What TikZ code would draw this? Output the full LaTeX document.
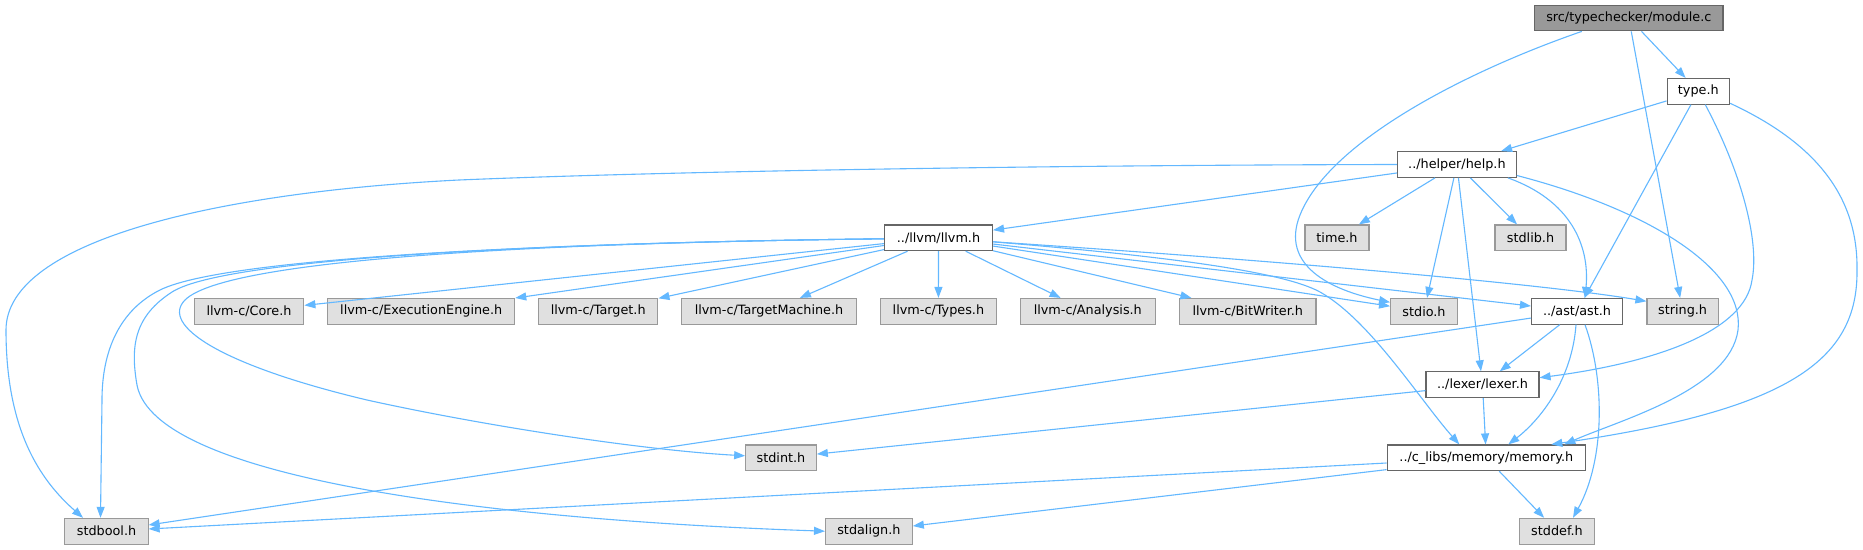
\documentclass[tikz,border=0pt]{standalone}
\usepackage{fontspec}
\setmainfont{DejaVu Sans}
\usetikzlibrary{arrows.meta}
\definecolor{edgec}{HTML}{63B8FF}
\definecolor{grayfill}{HTML}{E0E0E0}
\definecolor{grayline}{HTML}{999999}
\definecolor{darkline}{HTML}{666666}
\definecolor{rootfill}{HTML}{999999}
\begin{document}
\begin{tikzpicture}[x=1pt,y=-1pt,
  box/.style={draw, rectangle, inner sep=0pt, minimum height=25.7pt, line width=1.1pt, font=\fontsize{12.8}{15}\selectfont, text=black},
  extnode/.style={box, fill=grayfill, draw=grayline},
  intnode/.style={box, fill=white, draw=darkline},
  rootnode/.style={box, fill=rootfill, draw=darkline},
  incl/.style={draw=edgec, line width=1.1pt, -{Triangle[length=11pt,width=8pt]}}
]
\fill[white] (0,0) rectangle (1863,549);
\useasboundingbox (0,0) rectangle (1863,549);

\node[rootnode, minimum width=188.4pt] (module) at (1628.8,18) {src/typechecker/module.c};
\node[intnode, minimum width=62.5pt] (type) at (1698.3,91.3) {type.h};
\node[intnode, minimum width=118.8pt] (help) at (1456.9,164.5) {../helper/help.h};
\node[intnode, minimum width=108pt] (llvm) at (938.5,237.8) {../llvm/llvm.h};
\node[extnode, minimum width=64pt] (time) at (1337,237.8) {time.h};
\node[extnode, minimum width=71pt] (stdlib) at (1530.5,237.8) {stdlib.h};
\node[extnode, minimum width=109.7pt] (core) at (249,311.3) {llvm-c/Core.h};
\node[extnode, minimum width=187pt] (ee) at (421.2,311.3) {llvm-c/ExecutionEngine.h};
\node[extnode, minimum width=119.4pt] (target) at (598.2,311.3) {llvm-c/Target.h};
\node[extnode, minimum width=175pt] (tm) at (769,311.3) {llvm-c/TargetMachine.h};
\node[extnode, minimum width=116pt] (types) at (938.4,311.3) {llvm-c/Types.h};
\node[extnode, minimum width=135pt] (analysis) at (1087.8,311.3) {llvm-c/Analysis.h};
\node[extnode, minimum width=136.3pt] (bitwriter) at (1247.8,311.3) {llvm-c/BitWriter.h};
\node[extnode, minimum width=66.8pt] (stdio) at (1424,311.3) {stdio.h};
\node[intnode, minimum width=91pt] (ast) at (1577,311.3) {../ast/ast.h};
\node[extnode, minimum width=71.3pt] (string) at (1682.6,311.3) {string.h};
\node[intnode, minimum width=113pt] (lexer) at (1482.5,384.7) {../lexer/lexer.h};
\node[extnode, minimum width=70.6pt] (stdint) at (781,457.8) {stdint.h};
\node[intnode, minimum width=198.5pt] (memory) at (1486.3,457.8) {../c\_libs/memory/memory.h};
\node[extnode, minimum width=83.2pt] (stdbool) at (106.5,531.2) {stdbool.h};
\node[extnode, minimum width=86.8pt] (stdalign) at (868.9,531.2) {stdalign.h};
\node[extnode, minimum width=75.5pt] (stddef) at (1557,531.2) {stddef.h};

% module.c
\draw[incl] (module) -- (type);
\draw[incl] (module) -- (string);
\draw[incl] ([xshift=-47pt]module.south) .. controls (1470,70) and (1330,140) .. (1300,215) .. controls (1280,265) and (1330,290) .. ([yshift=9pt]stdio.west);

% type.h
\draw[incl] (type) -- (help);
\draw[incl] (type) -- (ast);
\draw[incl] ([xshift=7pt]type.south) .. controls (1740,170) and (1760,240) .. (1752,280) .. controls (1745,330) and (1660,362) .. ([yshift=7pt]lexer.east);
\draw[incl] ([yshift=-12pt]type.east) .. controls (1820,145) and (1858,200) .. (1857,270) .. controls (1858,360) and (1790,410) .. ([xshift=65pt]memory.north);

% help.h
\draw[incl] (help.west) .. controls (1100,165) and (700,170) .. (459,180) .. controls (220,192) and (6,240) .. (6,330) .. controls (6,430) and (40,480) .. ([xshift=-23.5pt]stdbool.north);
\draw[incl] (help) -- (llvm);
\draw[incl] (help) -- (time);
\draw[incl] (help) -- (stdio);
\draw[incl] (help) -- (lexer);
\draw[incl] (help) -- (stdlib);
\draw[incl] ([xshift=51pt]help.south) .. controls (1570,200) and (1590,245) .. ([xshift=8pt]ast.north);
\draw[incl] ([yshift=-11pt]help.east) .. controls (1650,210) and (1745,270) .. (1738,330) .. controls (1730,390) and (1620,420) .. ([xshift=78pt]memory.north);

% llvm.h
\draw[incl] (llvm) -- (core);
\draw[incl] (llvm) -- (ee);
\draw[incl] (llvm) -- (target);
\draw[incl] (llvm) -- (tm);
\draw[incl] (llvm) -- (types);
\draw[incl] (llvm) -- (analysis);
\draw[incl] (llvm) -- (bitwriter);
\draw[incl] (llvm) -- (stdio);
\draw[incl] (llvm) -- (ast);
\draw[incl] ([yshift=-4pt]llvm.east) .. controls (1300,262) and (1550,285) .. ([yshift=10pt]string.west);
\draw[incl] ([yshift=-4pt]llvm.east) .. controls (1150,255) and (1280,270) .. (1320,292) .. controls (1370,320) and (1420,400) .. ([xshift=-27pt]memory.north);
\draw[incl] ([yshift=-1pt]llvm.west) .. controls (600,242) and (230,255) .. (160,290) .. controls (120,310) and (102,350) .. (102,400) -- ([xshift=-6pt]stdbool.north);
\draw[incl] ([yshift=-1pt]llvm.west) .. controls (600,242) and (230,255) .. (172,292) .. controls (135,316) and (130,345) .. (137,385) .. controls (155,480) and (500,520) .. (stdalign.west);
\draw[incl] ([yshift=-1pt]llvm.west) .. controls (600,242) and (230,255) .. (185,300) .. controls (160,325) and (220,365) .. (367,400) .. controls (480,425) and (640,450) .. ([yshift=2pt]stdint.west);

% ast.h
\draw[incl] (ast) -- (stdbool);
\draw[incl] (ast) -- (lexer);
\draw[incl] ([xshift=-1pt]ast.south) .. controls (1572,380) and (1540,420) .. ([xshift=22pt]memory.north);
\draw[incl] ([xshift=8pt]ast.south) .. controls (1605,380) and (1605,460) .. ([xshift=16pt]stddef.north);

% lexer.h
\draw[incl] (lexer) -- (stdint);
\draw[incl] (lexer) -- (memory);

% memory.h
\draw[incl] (memory) -- (stdbool);
\draw[incl] (memory) -- (stdalign);
\draw[incl] (memory) -- (stddef);
\end{tikzpicture}
\end{document}
